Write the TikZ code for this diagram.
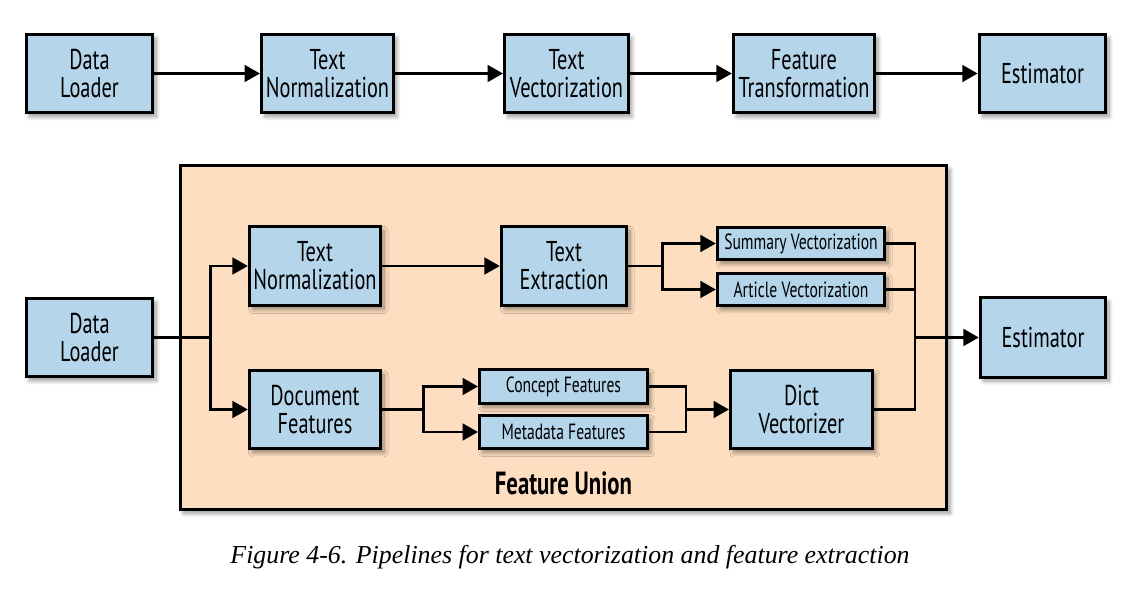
\documentclass[tikz,border=0pt]{standalone}
\usepackage{fontspec}
\setmainfont{PT Sans}[FakeStretch=0.71]
\newfontfamily\capfont{Liberation Serif}
\usetikzlibrary{arrows.meta,shadows.blur}
\definecolor{boxblue}{RGB}{180,213,234}
\definecolor{unionorange}{RGB}{253,222,192}
\tikzset{
  shade/.style={blur shadow={shadow xshift=2.5pt, shadow yshift=-3pt, shadow blur radius=3pt, shadow blur steps=10, shadow opacity=40}},
  box/.style={draw=black, line width=2.3pt, fill=boxblue, align=center, inner sep=0pt,
    font=\fontsize{21.5}{21}\selectfont, shade},
  smallbox/.style={box, font=\fontsize{16.5}{18}\selectfont},
  union/.style={draw=black, line width=2.3pt, fill=unionorange, inner sep=0pt, shade},
  link/.style={line width=1.95pt},
  conn/.style={line width=1.95pt, -{Triangle[length=11.5pt,width=12.5pt]}},
}
\begin{document}
\begin{tikzpicture}[x=0.75pt,y=-0.75pt]
\useasboundingbox (0,0) rectangle (1133,595);
% top pipeline
\node[box, minimum width=95pt, minimum height=59pt] (dl1) at (89.5,73.5) {Data\\Loader};
\node[box, minimum width=99pt, minimum height=59pt] (tn1) at (327.5,73.5) {Text\\Normalization};
\node[box, minimum width=93pt, minimum height=59pt] (tv1) at (566.5,73.5) {Text\\Vectorization};
\node[box, minimum width=106pt, minimum height=59pt] (ft1) at (804,73.5) {Feature\\Transformation};
\node[box, minimum width=95pt, minimum height=59pt] (es1) at (1042.5,73.5) {Estimator};
\draw[conn] (dl1) -- (tn1);
\draw[conn] (tn1) -- (tv1);
\draw[conn] (tv1) -- (ft1);
\draw[conn] (ft1) -- (es1);
% feature union
\node[union, minimum width=575pt, minimum height=258pt] (fu) at (563.5,337.5) {};
\node[font=\bfseries\fontsize{24}{26}\selectfont, inner sep=0pt] (fulabel) at (563.5,483) {Feature Union};
% bottom pipeline
\node[box, minimum width=95pt, minimum height=59pt] (dl2) at (89.5,337.5) {Data\\Loader};
\node[box, minimum width=98.5pt, minimum height=59.5pt] (tn2) at (315,266) {Text\\Normalization};
\node[box, minimum width=98.5pt, minimum height=59pt] (df) at (315,409.5) {Document\\Features};
\node[box, minimum width=94pt, minimum height=59.5pt] (te) at (564,266) {Text\\Extraction};
\node[smallbox, minimum width=125.5pt, minimum height=24.5pt] (sv) at (801,243.5) {Summary Vectorization};
\node[smallbox, minimum width=125.5pt, minimum height=24.5pt] (av) at (801,289.5) {Article Vectorization};
\node[smallbox, minimum width=126pt, minimum height=25.5pt] (cf) at (563.5,386.5) {Concept Features};
\node[smallbox, minimum width=126pt, minimum height=25pt] (mf) at (563.5,432) {Metadata Features};
\node[box, minimum width=106.5pt, minimum height=59pt] (dv) at (801.5,409.5) {Dict\\Vectorizer};
\node[box, minimum width=94pt, minimum height=59.5pt] (es2) at (1043,337.5) {Estimator};
\coordinate (j4) at (686,409.5);
\coordinate (j5) at (915,337.5);
\draw[conn] (dl2.east) -- ++(56,0) |- (tn2.west);
\draw[conn] (dl2.east) -- ++(56,0) |- (df.west);
\draw[conn] (tn2) -- (te);
\draw[conn] (te.east) -- ++(34,0) |- (sv.west);
\draw[conn] (te.east) -- ++(34,0) |- (av.west);
\draw[conn] (df.east) -- ++(41,0) |- (cf.west);
\draw[conn] (df.east) -- ++(41,0) |- (mf.west);
\draw[link] (cf.east) -| (j4);
\draw[link] (mf.east) -| (j4);
\draw[conn] (j4) -- (dv.west);
\draw[link] (sv.east) -| (j5);
\draw[link] (av.east) -| (j5);
\draw[link] (dv.east) -| (j5);
\draw[conn] (j5) -- (es2.west);
% caption
\node[font=\capfont\itshape\fontsize{19.4}{22}\selectfont, inner sep=0pt] (cap) at (570,557) {Figure 4-6. Pipelines for text vectorization and feature extraction};
\end{tikzpicture}
\end{document}
